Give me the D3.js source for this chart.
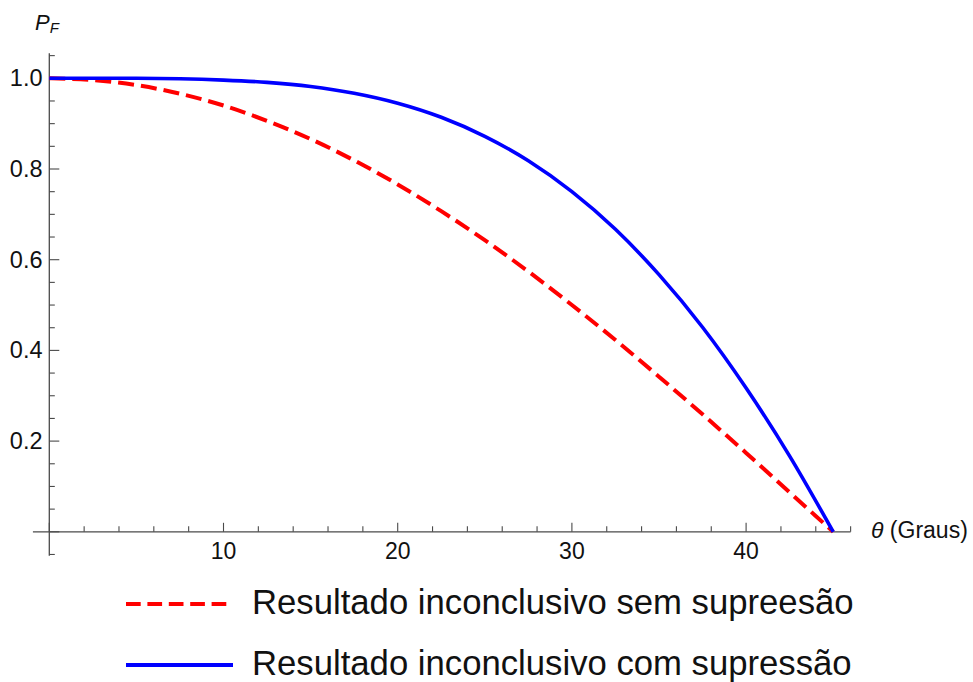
<!DOCTYPE html>
<html>
<head>
<meta charset="utf-8">
<script src="https://cdn.jsdelivr.net/npm/d3@7"></script>
<style>
  html, body { margin: 0; padding: 0; background: #fff; }
  svg { display: block; font-family: "Liberation Sans", Arial, sans-serif; }
</style>
</head>
<body>
<svg id="chart" width="973" height="682"></svg>
<script>
// Angle θ in degrees
const thetaDeg = [0, 2.5, 5, 7.5, 10, 12.5, 15, 17.5, 20, 22.5, 25, 27.5, 30, 32.5, 35, 37.5, 40, 42.5, 45];
// P_F without suppression
const pSemSupressao = [1.000, 0.996, 0.985, 0.966, 0.940, 0.906, 0.866, 0.819, 0.766, 0.707, 0.643, 0.574, 0.500, 0.423, 0.342, 0.259, 0.174, 0.087, 0.000];
// P_F with suppression
const pComSupressao = [1.000, 1.000, 1.000, 0.999, 0.996, 0.991, 0.982, 0.967, 0.945, 0.914, 0.872, 0.818, 0.750, 0.667, 0.567, 0.451, 0.317, 0.167, 0.000];

const xMajorTicks = [10, 20, 30, 40];
const yMajorTicks = [0.2, 0.4, 0.6, 0.8, 1.0];
const seriesLabels = ["Resultado inconclusivo sem supreesão", "Resultado inconclusivo com supressão"];

const svg = d3.select("#chart");
const x = d3.scaleLinear().domain([0, 45]).range([49.3, 833.2]);
const y = d3.scaleLinear().domain([0, 1]).range([531.8, 78.3]);

const axisColor = "#4a4a4a";
const g = svg.append("g");

// x axis line and ticks (ticks point up, into the plot)
g.append("line").attr("x1", x(-0.94)).attr("x2", x(46)).attr("y1", y(0)).attr("y2", y(0))
  .attr("stroke", axisColor).attr("stroke-width", 1.3);
const xMinor = d3.range(0, 47, 2).filter(v => v % 10 !== 0);
g.selectAll(".xminor").data(xMinor).join("line")
  .attr("x1", d => x(d)).attr("x2", d => x(d)).attr("y1", y(0)).attr("y2", y(0) - 5.5)
  .attr("stroke", axisColor).attr("stroke-width", 1.1);
g.selectAll(".xmajor").data([0].concat(xMajorTicks)).join("line")
  .attr("x1", d => x(d)).attr("x2", d => x(d)).attr("y1", y(0)).attr("y2", y(0) - 9)
  .attr("stroke", axisColor).attr("stroke-width", 1.1);
g.selectAll(".xlab").data(xMajorTicks).join("text")
  .attr("x", d => x(d)).attr("y", 559).attr("text-anchor", "middle")
  .attr("font-size", 23).attr("fill", "#111").text(d => d);

// y axis line and ticks (ticks point right, into the plot)
g.append("line").attr("x1", x(0)).attr("x2", x(0)).attr("y1", y(-0.053)).attr("y2", y(1.055))
  .attr("stroke", axisColor).attr("stroke-width", 1.3);
const yMinor = d3.range(-1, 22).map(i => i * 0.05).filter(v => Math.abs(v * 10 - Math.round(v * 10)) > 1e-6 || Math.round(v * 10) % 2 !== 0);
g.selectAll(".yminor").data(yMinor).join("line")
  .attr("x1", x(0)).attr("x2", x(0) + 5.5).attr("y1", d => y(d)).attr("y2", d => y(d))
  .attr("stroke", axisColor).attr("stroke-width", 1.1);
g.selectAll(".ymajor").data([0].concat(yMajorTicks)).join("line")
  .attr("x1", x(0)).attr("x2", x(0) + 10).attr("y1", d => y(d)).attr("y2", d => y(d))
  .attr("stroke", axisColor).attr("stroke-width", 1.1);
g.selectAll(".ylab").data(yMajorTicks).join("text")
  .attr("x", 42.5).attr("y", d => y(d) + 8).attr("text-anchor", "end")
  .attr("font-size", 23.5).attr("fill", "#111").text(d => d.toFixed(1));

// axis titles
const pf = g.append("text").attr("x", 35).attr("y", 30).attr("font-size", 22).attr("fill", "#111");
pf.append("tspan").attr("font-style", "italic").text("P");
pf.append("tspan").attr("font-style", "italic").attr("font-size", 15).attr("dy", 3).text("F");
const th = g.append("text").attr("x", 871).attr("y", 538).attr("font-size", 23).attr("fill", "#111");
th.append("tspan").attr("font-style", "italic").text("θ");
th.append("tspan").text(" (Graus)");

// curves
const line = d3.line().x(d => x(d[0])).y(d => y(d[1])).curve(d3.curveMonotoneX);
g.append("path").datum(thetaDeg.map((t, i) => [t, pSemSupressao[i]]))
  .attr("d", line).attr("fill", "none").attr("stroke", "#ff0000")
  .attr("stroke-width", 4).attr("stroke-dasharray", "16,7");
g.append("path").datum(thetaDeg.map((t, i) => [t, pComSupressao[i]]))
  .attr("d", line).attr("fill", "none").attr("stroke", "#0000ff")
  .attr("stroke-width", 3.6);

// legend
const legend = [
  { label: seriesLabels[0], color: "#ff0000", dash: "14.7,6.7", ly: 604, ty: 614, x2: 227 },
  { label: seriesLabels[1], color: "#0000ff", dash: null, ly: 665, ty: 674.5, x2: 233 }
];
legend.forEach(l => {
  g.append("line").attr("x1", 126).attr("x2", l.x2).attr("y1", l.ly).attr("y2", l.ly)
    .attr("stroke", l.color).attr("stroke-width", 4).attr("stroke-dasharray", l.dash);
  g.append("text").attr("x", 252).attr("y", l.ty).attr("font-size", 34.7).attr("fill", "#111").text(l.label);
});
</script>
</body>
</html>
